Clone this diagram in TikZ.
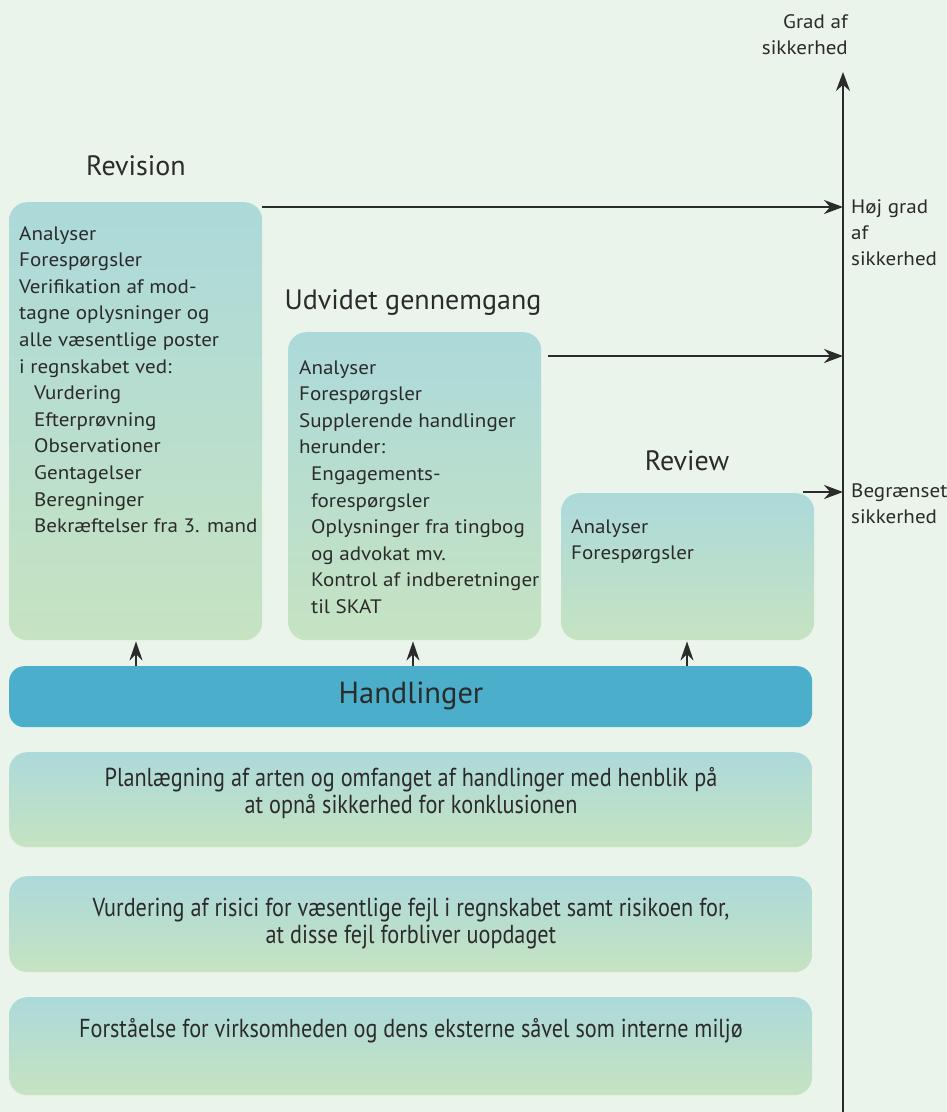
\documentclass[tikz,border=0pt]{standalone}
\usepackage{fontspec}
\setmainfont{PT Sans}
\newfontfamily\condfont[FakeStretch=0.855]{PT Sans}
\newfontfamily\widefont[FakeStretch=1.08]{PT Sans}
\usetikzlibrary{arrows.meta}
\definecolor{bg}{HTML}{EAF4EA}
\definecolor{boxtop}{HTML}{ACD9DA}
\definecolor{boxbot}{HTML}{C6E3C2}
\definecolor{bar}{HTML}{4BAFCB}
\definecolor{txt}{HTML}{2B2B2B}
\tikzset{
  panel/.style={draw=none, rounded corners=18pt, top color=boxtop, bottom color=boxbot, inner sep=0pt},
  body/.style={inner sep=0pt, align=left, text=txt, font=\widefont\fontsize{19.5}{26.6}\selectfont},
  cbody/.style={inner sep=0pt, align=center, text=txt, font=\condfont\fontsize{26}{27}\selectfont},
  title/.style={inner sep=0pt, text=txt, font=\fontsize{28}{30}\selectfont},
  axlab/.style={inner sep=0pt, align=left, text=txt, font=\widefont\fontsize{19.5}{26}\selectfont},
  arr/.style={line width=2.3pt, color=txt, -{Stealth[length=19pt,width=14pt]}},
}
\begin{document}
\begin{tikzpicture}[x=1pt,y=-1pt]
\fill[bg] (0,0) rectangle (947,1112);
\useasboundingbox (0,0) rectangle (947,1112);

% axis
\coordinate (axbot) at (843,1112);
\coordinate (axtop) at (843,72);
\draw[arr] (axbot) -- (axtop);
\node[axlab, align=right, anchor=east] (grad) at (848,35) {Grad af\\sikkerhed};

% panels
\node[panel, minimum width=253pt, minimum height=438pt, anchor=north west] (rev) at (9,202) {};
\node[panel, minimum width=253pt, minimum height=308pt, anchor=north west] (udv) at (288,332) {};
\node[panel, minimum width=253pt, minimum height=147pt, anchor=north west] (rvw) at (561,493) {};

\node[title] (revt) at (136,166) {Revision};
\node[title] (udvt) at (413,303) {Udvidet gennemgang};
\node[title] (rvwt) at (687,461) {Review};

\node[body, anchor=north west] (revtxt) at (19,226) {Analyser\\Forespørgsler\\Verifikation af mod-\\tagne oplysninger og\\alle væsentlige poster\\i regnskabet ved:\\
\hspace*{15pt}Vurdering\\\hspace*{15pt}Efterprøvning\\\hspace*{15pt}Observationer\\\hspace*{15pt}Gentagelser\\\hspace*{15pt}Beregninger\\\hspace*{15pt}Bekræftelser fra 3. mand};

\node[body, anchor=north west] (udvtxt) at (299,360) {Analyser\\Forespørgsler\\Supplerende handlinger\\herunder:\\
\hspace*{12pt}Engagements-\\\hspace*{12pt}forespørgsler\\\hspace*{12pt}Oplysninger fra tingbog\\\hspace*{12pt}og advokat mv.\\\hspace*{12pt}Kontrol af indberetninger\\\hspace*{12pt}til SKAT};

\node[body, anchor=north west] (rvwtxt) at (571,519) {Analyser\\Forespørgsler};

% bar
\node[draw=none, fill=bar, rounded corners=15pt, minimum width=803pt, minimum height=61pt, anchor=north west, inner sep=0pt] (hand) at (9,666) {};
\node[title, font=\fontsize{30.5}{32}\selectfont] (handt) at (411,696) {Handlinger};

% lower panels
\node[panel, minimum width=803pt, minimum height=95pt, anchor=north west] (plan) at (9,752) {};
\node[cbody] (plant) at (411,793) {Planlægning af arten og omfanget af handlinger med henblik på\\at opnå sikkerhed for konklusionen};
\node[panel, minimum width=803pt, minimum height=96pt, anchor=north west] (vurd) at (9,876) {};
\node[cbody] (vurdt) at (411,924) {Vurdering af risici for væsentlige fejl i regnskabet samt risikoen for,\\at disse fejl forbliver uopdaget};
\node[panel, minimum width=803pt, minimum height=98pt, anchor=north west] (forst) at (9,997) {};
\node[cbody] (forstt) at (411,1031) {Forståelse for virksomheden og dens eksterne såvel som interne miljø};

% up arrows
\draw[arr, -{Stealth[length=19pt,width=13pt]}] (hand.north -| revt) -- ([yshift=-1pt]rev.south -| revt);
\draw[arr, -{Stealth[length=19pt,width=13pt]}] (hand.north -| udvt) -- ([yshift=-1pt]udv.south -| udvt);
\draw[arr, -{Stealth[length=19pt,width=13pt]}] (hand.north -| rvwt) -- ([yshift=-1pt]rvw.south -| rvwt);

% right arrows
\coordinate (a1) at (262,207);
\coordinate (a2) at (548,356);
\coordinate (a3) at (803,492);
\draw[arr] (a1) -- (a1 -| axtop);
\draw[arr] (a2) -- (a2 -| axtop);
\draw[arr] (a3) -- (a3 -| axtop);

\node[axlab, anchor=north west] (hoj) at (851,199) {Høj grad\\af\\sikkerhed};
\node[axlab, anchor=north west] (begr) at (851,483) {Begrænset\\sikkerhed};
\end{tikzpicture}
\end{document}
